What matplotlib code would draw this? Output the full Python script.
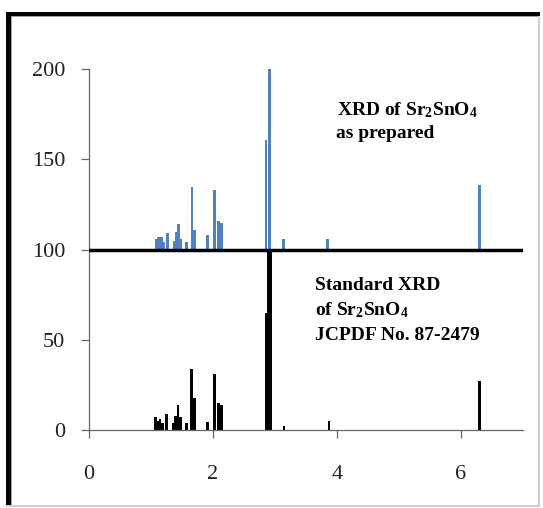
import matplotlib.pyplot as plt
import numpy as np
from matplotlib.patches import Rectangle

# Peak positions and intensities
prep_pos = [1.092, 1.126, 1.165, 1.202, 1.263, 1.371, 1.408, 1.447, 1.484, 1.569,
            1.661, 1.697, 1.911, 2.021, 2.092, 2.134, 2.855, 2.911, 3.142, 3.85, 6.294]
prep_int = [6, 7, 7, 4, 9, 5, 10, 14, 6, 4,
            35, 11, 8, 33, 16, 15, 61, 100, 6, 6, 36]

std_pos = [1.072, 1.105, 1.145, 1.19, 1.25, 1.363, 1.40, 1.435, 1.473, 1.57,
           1.66, 1.697, 1.915, 2.025, 2.094, 2.134, 2.855, 2.911, 3.145, 3.87, 6.295]
std_int = [7, 5, 6, 4, 9, 4, 8, 14, 7, 4,
           34, 18, 4.5, 31, 15, 14, 65, 100, 2, 5, 27]

x_ticks = [0, 2, 4, 6]
y_ticks = [0, 50, 100, 150, 200]
offset = 100  # prepared pattern is stacked on top of the standard

plt.rcParams['font.family'] = 'Liberation Serif'
plt.rcParams['mathtext.fontset'] = 'custom'
plt.rcParams['mathtext.rm'] = 'Liberation Serif'
plt.rcParams['mathtext.bf'] = 'Liberation Serif:bold'
plt.rcParams['mathtext.default'] = 'bf'

W, H = 543, 508
fig = plt.figure(figsize=(W / 100, H / 100), dpi=100)
ax = fig.add_axes([89 / W, 1 - 430 / H, 434 / W, 360.7 / H])

# standard pattern (black)
std_w = np.where(np.array(std_int) >= 100, 0.07, 0.046)
ax.bar(std_pos, std_int, width=std_w, color='black', zorder=2)

# as-prepared pattern (blue), starting from the 100 baseline
ax.bar(prep_pos, prep_int, width=0.046, bottom=offset, color='#4F81BD', zorder=2)

ax.axhline(offset, color='black', lw=2.5, zorder=3)

ax.set_xlim(0, 7)
ax.set_ylim(0, 200)
ax.set_xticks(x_ticks)
ax.set_yticks(y_ticks)
for s in ['top', 'right']:
    ax.spines[s].set_visible(False)
for s in ['left', 'bottom']:
    ax.spines[s].set_color('#666666')
    ax.spines[s].set_linewidth(0.9)
ax.tick_params(axis='both', direction='out', length=6, width=0.9,
               color='#666666', labelsize=16, labelcolor='#222222')
ax.tick_params(axis='x', pad=19)
ax.tick_params(axis='y', pad=11)

# annotations
ax.text(4.0, 174.5, r'XRD of Sr$_2$SnO$_4$', fontsize=14, fontweight='bold')
ax.text(3.98, 161.8, 'as prepared', fontsize=14, fontweight='bold')
ax.text(3.645, 77.6, 'Standard XRD', fontsize=14, fontweight='bold')
ax.text(3.645, 63.7, r'of Sr$_2$SnO$_4$', fontsize=14, fontweight='bold')
ax.text(3.645, 49.9, 'JCPDF No. 87-2479', fontsize=14, fontweight='bold')


def frame_box(x0, y0, x1, y1, color):
    # rectangle given in pixel coords measured from the top-left corner
    fig.add_artist(Rectangle((x0 / W, 1 - y1 / H), (x1 - x0) / W, (y1 - y0) / H,
                             transform=fig.transFigure, facecolor=color,
                             edgecolor='none', zorder=5))


# picture frame: heavy black left/top, light grey right/bottom
frame_box(6, 11.5, 10.5, 506, 'black')
frame_box(6, 11.5, 539.5, 15.5, 'black')
frame_box(10.5, 15.5, 12, 506, '#a0a0a0')
frame_box(10.5, 15.5, 539.5, 17, '#a0a0a0')
frame_box(538, 15.5, 539.5, 506, '#d0d0d0')
frame_box(6, 505, 539.5, 506.5, '#d0d0d0')

fig.savefig('out.png', dpi=100)
